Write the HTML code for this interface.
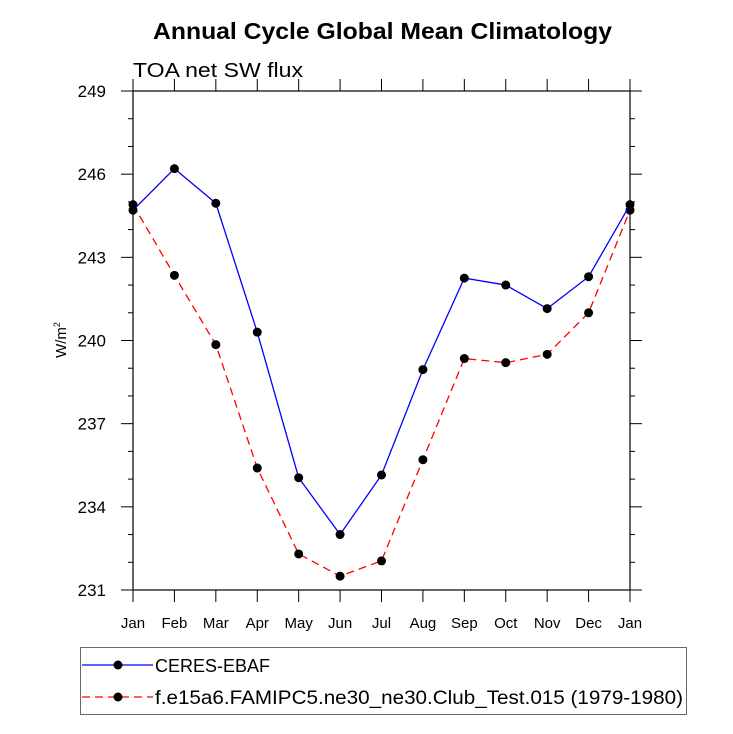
<!DOCTYPE html>
<html><head><meta charset="utf-8">
<style>
html,body{margin:0;padding:0;background:#fff;}
svg{display:block;font-family:"Liberation Sans",Arial,sans-serif;}
</style></head>
<body>
<svg id="chart" width="733" height="734" viewBox="0 0 733 734" xmlns="http://www.w3.org/2000/svg">
<text x="153" y="39" font-size="23" font-weight="bold" textLength="459" lengthAdjust="spacingAndGlyphs">Annual Cycle Global Mean Climatology</text>
<text x="133" y="77" font-size="20" textLength="170" lengthAdjust="spacingAndGlyphs">TOA net SW flux</text>
<text transform="translate(66,340) rotate(-90)" text-anchor="middle" font-size="15">W/m<tspan dy="-6" font-size="9">2</tspan></text>
<g id="axes"></g>
<g id="series"></g>
<g id="legend">
<rect x="80.5" y="647.5" width="606" height="67" fill="none" stroke="#666" stroke-width="1"/>
<line x1="82" y1="665" x2="153" y2="665" stroke="#0000ff" stroke-width="1.3"/>
<circle cx="118" cy="665" r="4.5" fill="#000"/>
<text x="155" y="672" font-size="18">CERES-EBAF</text>
<line x1="82" y1="697" x2="153" y2="697" stroke="#ff0000" stroke-width="1.3" stroke-dasharray="8,5"/>
<circle cx="118" cy="697" r="4.5" fill="#000"/>
<text x="155" y="704" font-size="19" textLength="528" lengthAdjust="spacingAndGlyphs">f.e15a6.FAMIPC5.ne30_ne30.Club_Test.015 (1979-1980)</text>
</g>
</svg>
<script>
const months = ["Jan","Feb","Mar","Apr","May","Jun","Jul","Aug","Sep","Oct","Nov","Dec","Jan"];
const ceres = [244.7,246.2,244.95,240.3,235.05,233.0,235.15,238.95,242.25,242.0,241.15,242.3,244.9];
const model = [244.9,242.35,239.85,235.4,232.3,231.5,232.05,235.7,239.35,239.2,239.5,241.0,244.7];
const yTicks = [231,234,237,240,243,246,249];
const NS = "http://www.w3.org/2000/svg";
const X0=133, X1=630, Y0=590, Y1=91, YMIN=231, YMAX=249;
function xs(i){return X0+(X1-X0)*i/(months.length-1);}
function ys(v){return Y0-(v-YMIN)/(YMAX-YMIN)*(Y0-Y1);}
function mk(tag,attrs,parent){const e=document.createElementNS(NS,tag);for(const k in attrs)e.setAttribute(k,attrs[k]);parent.appendChild(e);return e;}
const axes=document.getElementById('axes');
const frame=mk('rect',{x:X0,y:Y1,width:X1-X0,height:Y0-Y1,fill:'none',stroke:'#000','stroke-width':1.2},axes);


for(let v=YMIN; v<=YMAX; v++){
  const y=ys(v); const major=yTicks.includes(v); const L=major?12:5;
  mk('line',{x1:X0,y1:y,x2:X0-L,y2:y,stroke:'#000','stroke-width':1},axes);
  mk('line',{x1:X1,y1:y,x2:X1+L,y2:y,stroke:'#000','stroke-width':1},axes);
}
yTicks.forEach(v=>{
  const t=mk('text',{x:X0-27,y:ys(v)+6,'text-anchor':'end','font-size':17},axes);
  
  
  t.textContent=v;
});
months.forEach((m,i)=>{
  const x=xs(i);
  mk('line',{x1:x,y1:Y0,x2:x,y2:Y0+12,stroke:'#000','stroke-width':1},axes);
  mk('line',{x1:x,y1:Y1,x2:x,y2:Y1-12,stroke:'#000','stroke-width':1},axes);
  const t=mk('text',{x:x,y:Y0+38,'text-anchor':'middle','font-size':15},axes);
  
  
  t.textContent=m;
});
const ser=document.getElementById('series');
function draw(vals,color,dash,name){
  const pts=vals.map((v,i)=>xs(i)+','+ys(v)).join(' ');
  const pl=mk('polyline',{points:pts,fill:'none',stroke:color,'stroke-width':1.3,'stroke-dasharray':dash},ser);
  
  
  vals.forEach((v,i)=>{
    const c=mk('circle',{cx:xs(i),cy:ys(v),r:4.5,fill:'#000'},ser);
    
    
  });
}
draw(model,'#ff0000','8,5','model');
draw(ceres,'#0000ff','none','ceres');
</script>
</body></html>
